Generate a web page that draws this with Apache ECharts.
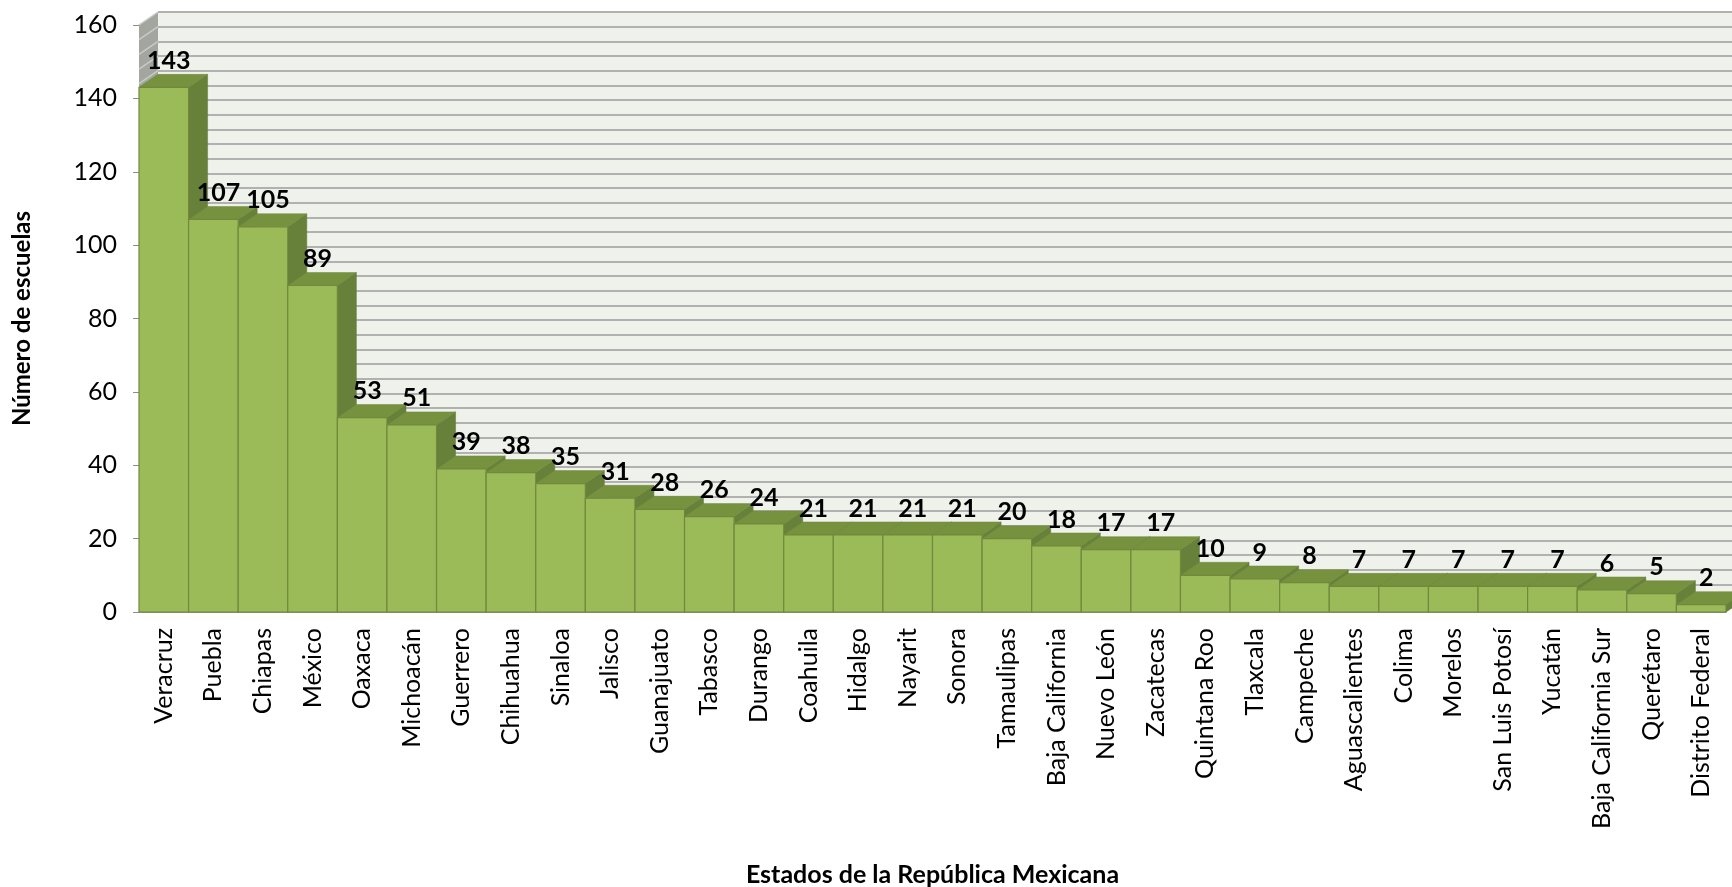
<!DOCTYPE html>
<html>
<head>
<meta charset="utf-8">
<script src="https://cdn.jsdelivr.net/npm/echarts@6/dist/echarts.min.js"></script>
<style>html,body{margin:0;padding:0;background:#fff}#c{width:1732px;height:887px}</style>
</head>
<body>
<div id="c"></div>
<script>
const categories = ["Veracruz","Puebla","Chiapas","México","Oaxaca","Michoacán","Guerrero","Chihuahua","Sinaloa","Jalisco","Guanajuato","Tabasco","Durango","Coahuila","Hidalgo","Nayarit","Sonora","Tamaulipas","Baja California","Nuevo León","Zacatecas","Quintana Roo","Tlaxcala","Campeche","Aguascalientes","Colima","Morelos","San Luis Potosí","Yucatán","Baja California Sur","Querétaro","Distrito Federal"];
const escuelas = [143,107,105,89,53,51,39,38,35,31,28,26,24,21,21,21,21,20,18,17,17,10,9,8,7,7,7,7,7,6,5,2];
const yMin = 0, yMax = 160, yInterval = 20, wallInterval = 4;
const yTitle = "Número de escuelas";
const xTitle = "Estados de la República Mexicana";

const DX = 19, DY = 13;
const FONT = "Lato";

const chart = echarts.init(document.getElementById('c'));

const barData = escuelas.map((v, i) => [i, v]);

function renderWall(params, api) {
  const w = api.size([1, 0])[0];
  const p0 = api.coord([0, yMin]);
  const p1 = api.coord([0, yMax]);
  const pe = api.coord([categories.length - 1, yMin]);
  const x0 = p0[0] - w / 2, xe = pe[0] + w / 2;
  const yb = p0[1], yt = p1[1];
  const children = [];
  children.push({type: 'polygon', shape: {points: [[x0, yb], [xe, yb], [xe + DX, yb - DY], [x0 + DX, yb - DY]]},
    style: {fill: '#A5A7A1'}});
  children.push({type: 'polygon', shape: {points: [[x0, yb], [x0, yt], [x0 + DX, yt - DY], [x0 + DX, yb - DY]]},
    style: {fill: '#A3A59F'}});
  for (let v = yMin; v <= yMax; v += wallInterval) {
    const y = api.coord([0, v])[1];
    children.push({type: 'line', shape: {x1: x0, y1: y, x2: x0 + DX, y2: y - DY},
      style: {stroke: '#C9CAC6', lineWidth: 1.5}});
  }
  return {type: 'group', children: children};
}

function renderBar(params, api) {
  const idx = api.value(0), v = api.value(1);
  const top = api.coord([idx, v]);
  const base = api.coord([idx, 0]);
  const w = api.size([1, 0])[0];
  const xl = top[0] - w / 2, xr = top[0] + w / 2, yt = top[1], yb = base[1];
  return {type: 'group', children: [
    {type: 'polygon', shape: {points: [[xr, yt], [xr + DX, yt - DY], [xr + DX, yb - DY], [xr, yb]]},
      style: {fill: '#67803A', stroke: '#627A36', lineWidth: 0.5}},
    {type: 'polygon', shape: {points: [[xl, yt], [xr, yt], [xr + DX, yt - DY], [xl + DX, yt - DY]]},
      style: {fill: '#77923F', stroke: '#6F893B', lineWidth: 0.5}},
    {type: 'rect', shape: {x: xl, y: yt, width: w, height: yb - yt},
      style: {fill: '#9BBB59', stroke: '#71893C', lineWidth: 1.2}},
    {type: 'text', x: top[0] + 5, y: yt - DY - 1,
      style: {text: String(v), fill: '#000', font: 'bold 25px ' + FONT, align: 'center', verticalAlign: 'bottom'}}
  ]};
}

chart.setOption({
  animation: false,
  backgroundColor: '#ffffff',
  grid: [
    {left: 139, right: 6, top: 25, bottom: 275, outerBoundsMode: 'none', containLabel: false},
    {left: 139 + DX, top: 25 - DY, width: 1620, height: 587, show: true, backgroundColor: '#EFF2EB', borderWidth: 0, outerBoundsMode: 'none', containLabel: false}
  ],
  xAxis: [
    {type: 'category', gridIndex: 0, data: categories,
      axisLine: {show: true, lineStyle: {color: '#8C8C8C', width: 1}},
      axisTick: {show: false},
      axisLabel: {rotate: 90, interval: 0, margin: 16, color: '#000', fontFamily: FONT, fontSize: 25},
      name: xTitle, nameLocation: 'middle', nameGap: 250,
      nameTextStyle: {fontFamily: FONT, fontWeight: 'bold', fontSize: 25, color: '#000'}},
    {type: 'value', gridIndex: 1, show: false, min: 0, max: 1}
  ],
  yAxis: [
    {type: 'value', gridIndex: 0, min: yMin, max: yMax, interval: yInterval,
      axisLine: {show: true, lineStyle: {color: '#8C8C8C', width: 1}},
      axisTick: {show: true, length: 6, lineStyle: {color: '#8C8C8C'}},
      splitLine: {show: false},
      axisLabel: {margin: 22, color: '#000', fontFamily: FONT, fontSize: 25},
      name: yTitle, nameLocation: 'middle', nameGap: 105,
      nameTextStyle: {fontFamily: FONT, fontWeight: 'bold', fontSize: 24, color: '#000'}},
    {type: 'value', gridIndex: 1, min: yMin, max: yMax, interval: wallInterval,
      axisLine: {show: false}, axisTick: {show: false}, axisLabel: {show: false},
      splitLine: {show: true, lineStyle: {color: '#B1B1B1', width: 2}}}
  ],
  series: [
    {type: 'custom', xAxisIndex: 0, yAxisIndex: 0, data: [[0, 0]], renderItem: renderWall, silent: true, z: 1},
    {type: 'custom', xAxisIndex: 0, yAxisIndex: 0, data: barData, encode: {x: 0, y: 1}, renderItem: renderBar, z: 2}
  ]
});
</script>
</body>
</html>
